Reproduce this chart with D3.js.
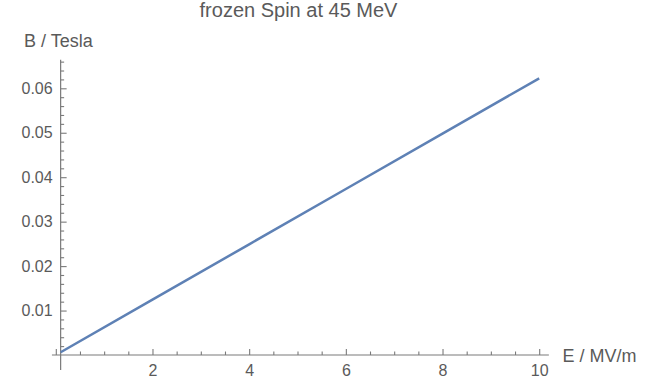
<!DOCTYPE html>
<html lang="en">
<head>
<meta charset="utf-8">
<style>
  body { margin: 0; padding: 0; background: #ffffff; }
  svg { display: block; font-family: "Liberation Sans", Arial, sans-serif; }
  .tick text { fill: #5a5a5a; font-size: 16px; }
  .tick line { stroke: #7a7a7a; stroke-width: 1.1; }
  .axisline { stroke: #7a7a7a; stroke-width: 1.2; }
  .label { fill: #5a5a5a; font-size: 18px; }
</style>
<script src="https://cdn.jsdelivr.net/npm/d3@7"></script>
</head>
<body>
<script>
// values
var efield = [0.1, 2, 4, 6, 8, 10];              // E / MV/m
var bfield = [0.00062, 0.01245, 0.0249, 0.03735, 0.0498, 0.06225]; // B / Tesla
var xMajor = [0, 2, 4, 6, 8, 10];
var xMinor = [0.5, 1, 1.5, 2.5, 3, 3.5, 4.5, 5, 5.5, 6.5, 7, 7.5, 8.5, 9, 9.5];
var yMajor = [0.01, 0.02, 0.03, 0.04, 0.05, 0.06];
var yMinor = [0.002, 0.004, 0.006, 0.008, 0.012, 0.014, 0.016, 0.018,
              0.022, 0.024, 0.026, 0.028, 0.032, 0.034, 0.036, 0.038,
              0.042, 0.044, 0.046, 0.048, 0.052, 0.054, 0.056, 0.058,
              0.062, 0.064, 0.066];
var title = "frozen Spin at 45 MeV";

var W = 648, H = 378;
var svg = d3.select("body").append("svg").attr("width", W).attr("height", H);

var x = d3.scaleLinear().domain([0, 10]).range([55.8, 539.2]);
var y = d3.scaleLinear().domain([0, 0.06]).range([355, 88.3]);

var x0 = x(efield[0]);   // vertical axis sits at the first sample
var y0 = y(0);

// axis lines
svg.append("line").attr("class", "axisline")
  .attr("x1", x(-0.08)).attr("x2", x(10.2)).attr("y1", y0).attr("y2", y0);
svg.append("line").attr("class", "axisline")
  .attr("x1", x0).attr("x2", x0).attr("y1", y(-0.0034)).attr("y2", y(0.0664));

// x ticks
var gx = svg.append("g").attr("transform", "translate(0," + y0 + ")");
gx.call(d3.axisBottom(x).tickValues(xMajor).tickSizeInner(-6).tickSizeOuter(0).tickPadding(10)
  .tickFormat(function(d) { return d === 0 ? "" : d; }));
gx.select(".domain").remove();
var gxm = svg.append("g").attr("transform", "translate(0," + y0 + ")");
gxm.call(d3.axisBottom(x).tickValues(xMinor).tickSizeInner(-3.5).tickSizeOuter(0).tickFormat(""));
gxm.select(".domain").remove();

// y ticks
var gy = svg.append("g").attr("transform", "translate(" + x0 + ",0)");
gy.call(d3.axisLeft(y).tickValues(yMajor).tickSizeInner(-6).tickSizeOuter(0).tickPadding(8)
  .tickFormat(d3.format(".2f")));
gy.select(".domain").remove();
var gym = svg.append("g").attr("transform", "translate(" + x0 + ",0)");
gym.call(d3.axisLeft(y).tickValues(yMinor).tickSizeInner(-3.5).tickSizeOuter(0).tickFormat(""));
gym.select(".domain").remove();

svg.selectAll(".tick text").attr("font-family", null).attr("font-size", null);

// curve
var pts = efield.map(function(e, i) { return [e, bfield[i]]; });
svg.append("path")
  .datum(pts)
  .attr("fill", "none")
  .attr("stroke", "#5e81b5")
  .attr("stroke-width", 2.5)
  .attr("d", d3.line().x(function(d) { return x(d[0]); }).y(function(d) { return y(d[1]); }));

// labels
svg.append("text").attr("class", "label").attr("x", 24).attr("y", 46.5).text("B / Tesla");
svg.append("text").attr("class", "label").attr("x", 562.5).attr("y", 361.5).text("E / MV/m");
svg.append("text").attr("x", 298.5).attr("y", 17).attr("text-anchor", "middle")
  .attr("fill", "#5a5a5a").attr("font-size", 20).text(title);
</script>
</body>
</html>
